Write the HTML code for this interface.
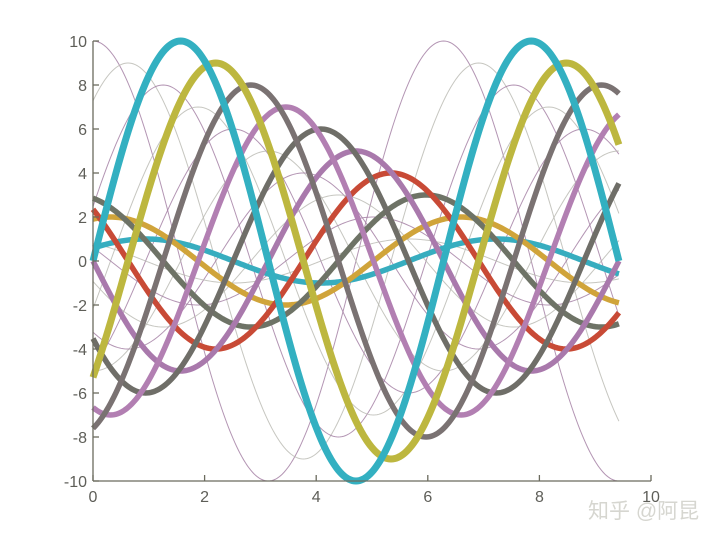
<!DOCTYPE html>
<html><head><meta charset="utf-8"><style>
body{margin:0;background:#fff;}
svg{display:block;font-family:"Liberation Sans",sans-serif;}
</style></head><body>
<svg id="chart" width="720" height="540" xmlns="http://www.w3.org/2000/svg">
<g id="thin"></g>
<g id="thick"></g>
<g id="axes"></g>
<text x="588" y="518" font-size="21" fill="#d6d6d0" font-family="'Liberation Sans','Noto Sans CJK SC',sans-serif">知乎 @阿昆</text>
</svg>
<script>
const amplitudes = [10, 9, 8, 7, 6, 5, 4, 3, 2, 1];
const phaseSteps = [0, 1, 2, 3, 4, 5, 6, 7, 8, 9];
const thickColors = ["#33b0c1","#bdb73f","#7a7272","#b27fb2","#6f6e68","#a979ac","#c84a36","#6e7366","#d0a43a","#37adbf"];
const thinColors = ["#a07aa0","#b8b8b0"];
const xTicks = [0, 2, 4, 6, 8, 10];
const yTicks = [-10, -8, -6, -4, -2, 0, 2, 4, 6, 8, 10];
const xMaxData = 3 * Math.PI;

const X0 = 93, X1 = 651, Y0 = 481, Y1 = 41;
const sx = v => X0 + (v - 0) / 10 * (X1 - X0);
const sy = v => Y0 - (v + 10) / 20 * (Y0 - Y1);
const NS = "http://www.w3.org/2000/svg";

function curve(A, ph, isCos) {
  let d = "";
  const n = 300;
  for (let i = 0; i <= n; i++) {
    const x = xMaxData * i / n;
    const y = isCos ? A * Math.cos(x - ph) : A * Math.sin(x - ph);
    d += (i ? "L" : "M") + sx(x).toFixed(2) + "," + sy(y).toFixed(2);
  }
  return d;
}

const thin = document.getElementById("thin");
amplitudes.forEach((A, k) => {
  const p = document.createElementNS(NS, "path");
  p.setAttribute("d", curve(A, phaseSteps[k] * Math.PI / 5, true));
  p.setAttribute("fill", "none");
  p.setAttribute("stroke", thinColors[k % 2]);
  p.setAttribute("stroke-width", "1");
  p.setAttribute("stroke-opacity", "0.8");
  
  
  thin.appendChild(p);
});

const thick = document.getElementById("thick");
for (let k = amplitudes.length - 1; k >= 0; k--) {
  const p = document.createElementNS(NS, "path");
  p.setAttribute("d", curve(amplitudes[k], phaseSteps[k] * Math.PI / 5, false));
  p.setAttribute("fill", "none");
  p.setAttribute("stroke", thickColors[k]);
  p.setAttribute("stroke-width", k < 2 ? "7" : "5.5");
  
  
  thick.appendChild(p);
}

const axes = document.getElementById("axes");
function line(x1, y1, x2, y2) {
  const l = document.createElementNS(NS, "line");
  l.setAttribute("x1", x1); l.setAttribute("y1", y1);
  l.setAttribute("x2", x2); l.setAttribute("y2", y2);
  l.setAttribute("stroke", "#6b6b5e"); l.setAttribute("stroke-width", "1.3");
  axes.appendChild(l);
  return l;
}
const xa = line(X0, Y0, X1, Y0);


const ya = line(X0, Y0, X0, Y1);


xTicks.forEach(v => {
  const t = line(sx(v), Y0, sx(v), Y0 - 6);
  
  
  const tx = document.createElementNS(NS, "text");
  tx.setAttribute("x", sx(v)); tx.setAttribute("y", Y0 + 21);
  tx.setAttribute("text-anchor", "middle"); tx.setAttribute("font-size", "16");
  tx.setAttribute("fill", "#5e5e58");
  tx.textContent = v;
  
  
  axes.appendChild(tx);
});
yTicks.forEach(v => {
  const t = line(X0, sy(v), X0 + 6, sy(v));
  
  
  const tx = document.createElementNS(NS, "text");
  tx.setAttribute("x", X0 - 6); tx.setAttribute("y", sy(v) + 6);
  tx.setAttribute("text-anchor", "end"); tx.setAttribute("font-size", "16");
  tx.setAttribute("fill", "#5e5e58");
  tx.textContent = v;
  
  
  axes.appendChild(tx);
});
</script>
</body></html>
